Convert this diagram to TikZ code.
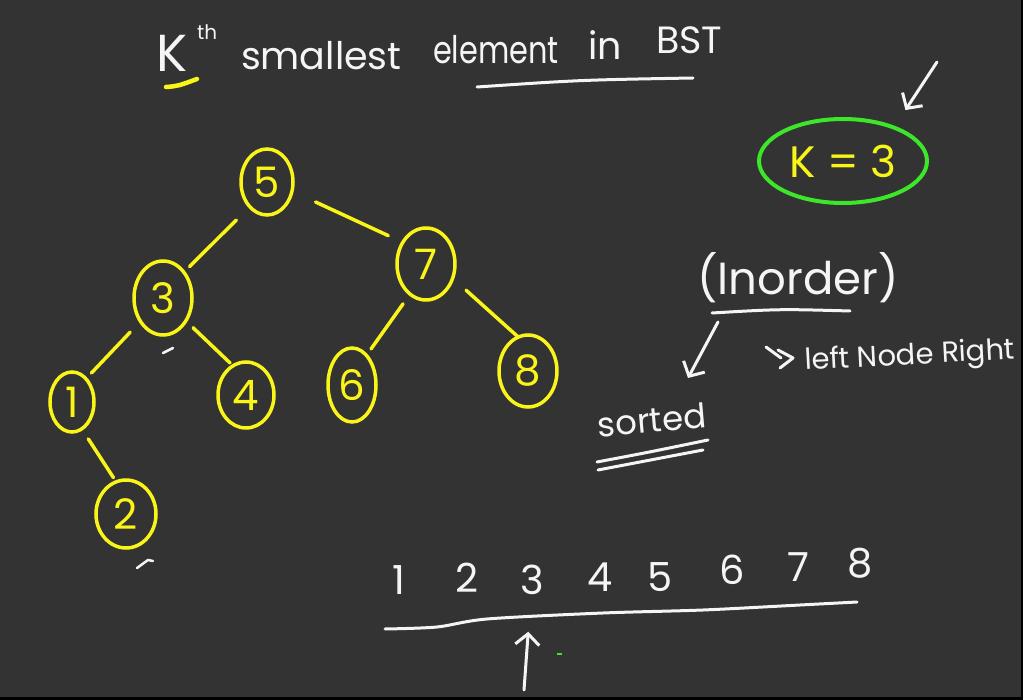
\documentclass[tikz,border=0pt]{standalone}
\usepackage{fontspec}
\setmainfont{Poppins}
\usetikzlibrary{arrows.meta,shapes.geometric,calc}
\definecolor{bg}{RGB}{51,51,51}
\definecolor{chalk}{RGB}{245,245,245}
\definecolor{hl}{RGB}{250,245,25}
\definecolor{marker}{RGB}{60,230,40}
\newcommand{\fs}[1]{\fontsize{#1}{#1}\selectfont}
\tikzset{
  treenode/.style={ellipse, draw=hl, line width=3.5pt, text=hl, inner sep=0pt, outer sep=0pt, font=\fs{42}},
  edge/.style={draw=hl, line width=3.5pt, line cap=round},
  chalkline/.style={draw=chalk, line width=3pt, line cap=round, line join=round},
  warrow/.style={chalkline, -{Straight Barb[length=11pt,width=24pt]}},
  handtext/.style={text=chalk, inner sep=0pt, outer sep=0pt},
  seqnum/.style={handtext, font=\fs{40}},
}
\begin{document}
\begin{tikzpicture}[x=1pt,y=-1pt]
\fill[bg] (0,0) rectangle (1023,700);
\useasboundingbox (0,0) rectangle (1023,700);
\fill[black] (0,697) rectangle (1023,700);
\fill[black] (1021,0) rectangle (1023,700);

% title
\node[handtext, font=\fs{52}, anchor=base west] (tK) at (156,72) {K};
\node[handtext, font=\fs{20}, anchor=base west] (tth) at (197,40) {th};
\node[handtext, font=\fs{38}, anchor=base west] (t1) at (241,70) {smallest};
\node[handtext, font=\fs{38}, anchor=base west] (t2) at (433,64) {\scalebox{0.8}[1]{element}};
\node[handtext, font=\fs{38}, anchor=base west] (t3) at (588,60) {in};
\node[handtext, font=\fs{38}, anchor=base west] (t4) at (656,54) {BST};
\draw[draw=hl, line width=4.5pt, line cap=round] (166,87) .. controls (178,86) .. (197,79);
\draw[chalkline] (477,87) .. controls (580,80) .. (693,78);

% tree
\node[treenode, minimum width=52pt, minimum height=66pt] (n5) at (267,182) {5};
\node[treenode, minimum width=58pt, minimum height=74pt] (n3) at (163,298) {3};
\node[treenode, minimum width=58pt, minimum height=72pt] (n7) at (426,264) {7};
\node[treenode, minimum width=44pt, minimum height=60pt] (n1) at (72,402) {1};
\node[treenode, minimum width=56pt, minimum height=66pt] (n4) at (246,395) {4};
\node[treenode, minimum width=48pt, minimum height=74pt] (n6) at (352,385) {6};
\node[treenode, minimum width=58pt, minimum height=72pt] (n8) at (528,371) {8};
\node[treenode, minimum width=60pt, minimum height=68pt] (n2) at (126,514) {2};

\draw[edge, shorten <=19pt, shorten >=8pt] (n5.-125) -- (n3.51);
\draw[edge, shorten <=26pt, shorten >=16pt] (n5.-20) -- (n7.137);
\draw[edge, shorten <=15pt, shorten >=8pt] (n3.-134) -- (n1.59);
\draw[edge, shorten <=10pt, shorten >=4pt] (n3.-45) -- (n4.114);
\draw[edge, shorten <=12pt, shorten >=8pt] (n7.-118) -- (n6.64);
\draw[edge, shorten <=18pt, shorten >=0pt] (n7.-28) -- (n8.106);
\draw[edge, shorten <=12pt, shorten >=5pt] (n1.-70) -- (n2.107);

% stray chalk marks
\draw[chalkline, line width=2.5pt] (163,353) -- (173,348);
\draw[chalkline, line width=2.5pt] (137,568) -- (148,560) -- (153,561);
\fill[marker] (557,653) rectangle (562,655);

% k = 3
\node[ellipse, draw=marker, line width=4pt, text=hl, inner sep=0pt, minimum width=168pt, minimum height=84pt, font=\fs{44}] (k3) at (843,161) {K = 3};
\coordinate (kfrom) at (937,62);
\draw[warrow, shorten >=19pt] (kfrom) -- (k3.34);

% inorder
\node[handtext, font=\fs{45}] (inorder) at (798,278) {(Inorder)};
\draw[chalkline] (712,313) .. controls (780,309) .. (850,311);
\node[handtext, font=\fs{34}, rotate=5] (sorted) at (652,420) {sorted};
\draw[chalkline] (597,462) .. controls (650,452) .. (708,440);
\draw[chalkline] (598,470) .. controls (650,460) .. (703,450);
\draw[warrow] ([shift={(-80,44)}]inorder.center) -- ([shift={(36,-42)}]sorted.center);

\draw[chalkline] (766,347) -- (781,358);
\draw[chalkline] (778,350) -- (793,358) -- (780,368);
\node[handtext, font=\fs{29}, anchor=base west, rotate=3] (lnr) at (805,370) {left Node Right};

% sorted sequence
\node[seqnum] (s1) at (399,580) {1};
\node[seqnum] (s2) at (467,578) {2};
\node[seqnum] (s3) at (532,580) {3};
\node[seqnum] (s4) at (600,577) {4};
\node[seqnum] (s5) at (660,577) {5};
\node[seqnum] (s6) at (732,570) {6};
\node[seqnum] (s7) at (798,567) {7};
\node[seqnum] (s8) at (860,563) {8};
\draw[chalkline] plot[smooth, tension=0.5] coordinates {(385,629) (437,627) (487,619) (603,613) (703,610) (800,605) (857,602)};
\coordinate (upfrom) at (524,690);
\draw[warrow, shorten >=37pt] (upfrom) -- (s3);
\end{tikzpicture}
\end{document}
